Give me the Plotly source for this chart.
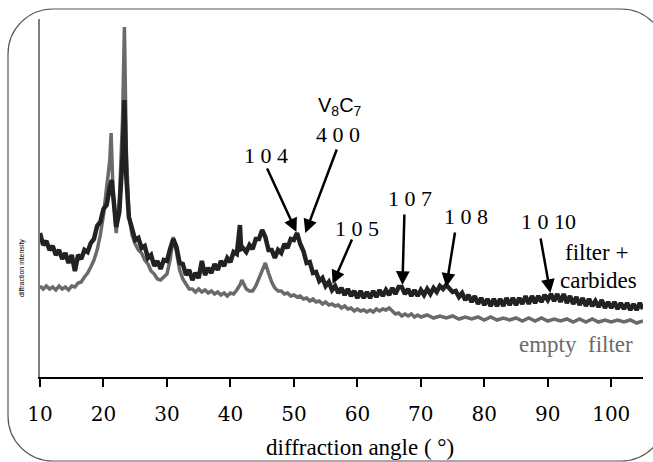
import plotly.graph_objects as go

# ---------------- data ----------------
angle_carbides = [
    10, 10.5, 11, 11.5, 12, 12.5, 13, 13.5, 14, 14.5, 15, 15.5, 16, 16.5, 17, 17.5, 18, 18.5, 19, 19.5, 20, 20.5, 21,
    21.3, 21.6, 22, 22.5, 23, 23.3, 23.6, 24,
    24.5, 25, 25.5, 26, 26.5, 27, 27.5, 28, 28.5, 29, 29.5, 30, 30.5, 31, 31.5, 32, 32.5, 33, 33.5, 34, 34.5, 35, 35.5,
    36, 36.5, 37, 37.5, 38, 38.5, 39, 39.5, 40, 40.5, 41, 41.5,
    41.7,
    42, 42.5, 43, 43.5, 44, 44.5, 45, 45.5, 46, 46.5, 47, 47.5, 48, 48.5, 49, 49.5, 50, 50.5, 51, 51.5, 52, 52.5, 53,
    53.5, 54, 54.5, 55, 55.5, 56, 56.5, 57, 57.5, 58,
    58.5, 59, 59.5, 60, 60.5, 61, 61.5, 62, 62.5, 63, 63.5, 64, 64.5, 65, 65.5, 66, 66.5, 67, 67.5, 68, 68.5, 69, 69.5,
    70, 70.5, 71, 71.5, 72, 72.5, 73, 73.5, 74, 74.5, 75, 75.5, 76, 76.5, 77, 77.5, 78, 78.5, 79, 79.5, 80, 80.5, 81,
    81.5, 82, 82.5, 83, 83.5, 84, 84.5, 85, 85.5, 86, 86.5, 87, 87.5, 88, 88.5, 89, 89.5, 90, 90.5, 91, 91.5, 92, 92.5,
    93, 93.5, 94, 94.5, 95, 95.5, 96, 96.5, 97, 97.5, 98, 98.5, 99, 99.5, 100, 100.5, 101, 101.5, 102, 102.5, 103,
    103.5, 104, 104.5, 105,
]
intensity_carbides = [
    144, 132, 136, 127, 131, 122, 127, 118, 124, 114, 122, 106, 122, 118, 127, 125, 134, 138, 151, 155, 168, 172, 190,
    197, 177, 150, 165, 220, 277, 200, 160,
    150, 137, 139, 129, 131, 119, 122, 111, 116, 108, 117, 116, 128, 138, 130, 114, 113, 102, 107, 97, 104, 99, 116,
    102, 109, 104, 113, 107, 116, 111, 119, 115, 125, 123, 152,
    128,
    129, 125, 132, 128, 138, 138, 147, 140, 127, 127, 119, 127, 124, 133, 129, 138, 137, 144, 133, 126, 114, 115, 104,
    105, 96, 99, 91, 95, 87, 91, 84, 89, 82,
    88, 81, 86, 79, 86, 79, 85, 79, 86, 80, 87, 81, 87, 82, 89, 83, 90, 90, 83, 88, 81, 87, 81,
    87, 82, 88, 83, 89, 85, 91, 88, 92, 89, 85, 86, 80, 84, 77, 82, 75, 81, 73, 79, 72, 78, 71,
    78, 71, 78, 71, 79, 72, 79, 72, 79, 73, 81, 73, 81, 74, 81, 75, 82, 77, 83, 76, 83, 75, 83,
    74, 81, 73, 80, 72, 79, 71, 78, 71, 76, 70, 77, 69, 75, 69, 75, 68, 74, 68, 74, 67,
    73, 67, 74, 68,
]

angle_empty = [
    10, 10.5, 11, 11.5, 12, 12.5, 13, 13.5, 14, 14.5, 15, 15.5, 16, 16.5, 17, 17.5, 18, 18.5, 19, 19.5, 20, 20.5, 21,
    21.2, 21.5, 22, 22.5, 23, 23.3, 23.6, 24, 24.5,
    25, 25.5, 26, 26.5, 27, 27.5, 28, 28.5, 29, 29.5, 30, 30.5, 31, 31.5, 32, 32.5, 33, 33.5, 34, 34.5, 35, 35.5, 36,
    36.5, 37, 37.5, 38, 38.5, 39, 39.5, 40, 40.5, 41, 41.5,
    41.8, 42.2,
    42.5, 43, 43.5, 44, 44.5, 45, 45.5, 46, 46.5, 47, 47.5, 48, 48.5, 49, 49.5, 50, 50.5, 51, 51.5, 52, 52.5, 53, 53.5,
    54, 54.5, 55, 55.5, 56, 56.5, 57, 57.5, 58, 58.5, 59, 59.5, 60, 60.5, 61, 61.5, 62, 62.5, 63, 63.5, 64, 64.5, 65,
    65.5, 66, 66.5, 67, 67.5, 68, 68.5, 69, 69.5, 70,
    71, 72, 73, 74, 75, 76, 77, 78, 79, 80, 81, 82, 83, 84, 85, 86, 87, 88, 89, 90, 91, 92, 93, 94, 95, 96, 97, 98,
    99, 100, 101, 102, 103, 104, 105,
]
intensity_empty = [
    91, 88, 91, 88, 90, 87, 91, 88, 90, 87, 91, 90, 94, 95, 100, 104, 110, 117, 127, 142, 162, 192, 217,
    244, 187, 144, 177, 257, 350, 227, 162, 142,
    133, 127, 124, 117, 113, 106, 103, 98, 97, 100, 103, 117, 140, 125, 107, 98, 93, 88, 88, 85, 88, 85, 87,
    84, 86, 83, 85, 82, 84, 81, 84, 83, 87, 92,
    97, 91,
    88, 86, 86, 91, 99, 108, 114, 104, 95, 89, 86, 86, 83, 84, 81, 82, 80, 81, 78, 79, 76, 78, 75,
    76, 73, 75, 72, 73, 71, 72, 69, 71, 68, 69, 66, 68, 66, 67, 65, 67, 65, 68, 66, 68, 67, 69,
    66, 63, 64, 61, 63, 61, 63, 60, 62, 60,
    62, 59, 61, 59, 61, 58, 60, 58, 60, 57, 60, 57, 59, 57, 59, 56, 59, 56, 59, 56, 58, 56, 58, 55, 58, 55, 58, 55,
    57, 55, 57, 55, 57, 54, 56,
]

tick_values = [10, 20, 30, 40, 50, 60, 70, 80, 90, 100]

peak_labels = ["1 0 4", "4 0 0", "1 0 5", "1 0 7", "1 0 8", "1 0 10"]
peak_angles = [50.4, 51.8, 56.1, 67.1, 74.0, 90.4]
peak_heights = [145, 144, 93, 92, 90, 84]

# ---------------- layout geometry ----------------
W, H = 653, 462
L, R, T, B = 40, 10, 19, 85
PW, PH = W - L - R, H - T - B


def paper(px, py):
    return (px - L) / PW, (H - B - py) / PH


SERIF_A = "Times New Roman"
SERIF_B = "DejaVu Serif"
SERIF_C = "serif"
SANS = "Liberation Sans"
DARK = "#222222"
GREY = "#6a6a6a"

fig = go.Figure()
fig.add_trace(go.Scatter(x=angle_empty, y=intensity_empty, mode="lines",
                         line=dict(color=GREY, width=3.5), name="empty filter"))
fig.add_trace(go.Scatter(x=angle_carbides, y=intensity_carbides, mode="lines",
                         line=dict(color=DARK, width=4.5), name="filter + carbides"))

annotations = []
tails = [(-30, -65), (32, -85), (20, -46), (2, -72), (9, -56), (-10, -56)]
for xa, ya, (dx, dy) in zip(peak_angles, peak_heights, tails):
    annotations.append(dict(x=xa, y=ya, xref="x", yref="y", text="", showarrow=True,
                            ax=dx, ay=dy, arrowhead=2, arrowsize=1.1, arrowwidth=2.5,
                            arrowcolor="black", standoff=0))

label_pos = [(266, 156), (338, 134), (357, 228), (410, 198), (466, 216), (548, 222)]
for lab, (px, py) in zip(peak_labels, label_pos):
    xp, yp = paper(px, py)
    annotations.append(dict(x=xp, y=yp, xref="paper", yref="paper", text=lab, showarrow=False,
                            xanchor="center", yanchor="middle",
                            font=dict(family=SERIF_A, size=22, color="black")))


def text_at(px, py, txt, fam, size, color="black", angle=0):
    xp, yp = paper(px, py)
    annotations.append(dict(x=xp, y=yp, xref="paper", yref="paper", text=txt, showarrow=False,
                            xanchor="center", yanchor="middle", textangle=angle,
                            font=dict(family=fam, size=size, color=color)))


text_at(340, 106, "V<sub>8</sub>C<sub>7</sub>", SANS, 20)
text_at(596, 252, "filter +", SERIF_C, 23)
text_at(598, 280, "carbides", SERIF_C, 23)
text_at(576, 344, "empty  filter", SERIF_C, 23, GREY)
text_at(360, 447, "diffraction angle ( °)", SERIF_A, 23)
text_at(22, 268, "diffraction intensity", SANS, 7, "black", -90)

bl, bt, br, bb, rad = 8, 9, 666, 461, 45
k = 0.5523 * rad


def P(px, py):
    x, y = paper(px, py)
    return f"{x:.5f},{y:.5f}"


path = (f"M {P(bl + rad, bt)} L {P(br - rad, bt)} "
        f"C {P(br - rad + k, bt)} {P(br, bt + rad - k)} {P(br, bt + rad)} "
        f"L {P(br, bb - rad)} "
        f"C {P(br, bb - rad + k)} {P(br - rad + k, bb)} {P(br - rad, bb)} "
        f"L {P(bl + rad, bb)} "
        f"C {P(bl + rad - k, bb)} {P(bl, bb - rad + k)} {P(bl, bb - rad)} "
        f"L {P(bl, bt + rad)} "
        f"C {P(bl, bt + rad - k)} {P(bl + rad - k, bt)} {P(bl + rad, bt)} Z")

fig.update_layout(
    width=W, height=H,
    margin=dict(l=L, r=R, t=T, b=B, pad=0),
    paper_bgcolor="white", plot_bgcolor="white",
    showlegend=False,
    annotations=annotations,
    shapes=[dict(type="path", path=path, xref="paper", yref="paper",
                 line=dict(color="#555555", width=1.2), layer="below")],
    xaxis=dict(range=[10, 105], tickvals=tick_values, ticks="outside", ticklen=8, tickwidth=2,
               tickcolor="black", showline=True, linecolor="black", linewidth=2,
               showgrid=False, zeroline=False, ticklabelstandoff=10,
               tickfont=dict(family=SERIF_B, size=20, color="black")),
    yaxis=dict(range=[0, 358], showticklabels=False, ticks="", showgrid=False, zeroline=False,
               showline=True, linecolor="#808080", linewidth=2),
)

fig.write_html("out.html")
